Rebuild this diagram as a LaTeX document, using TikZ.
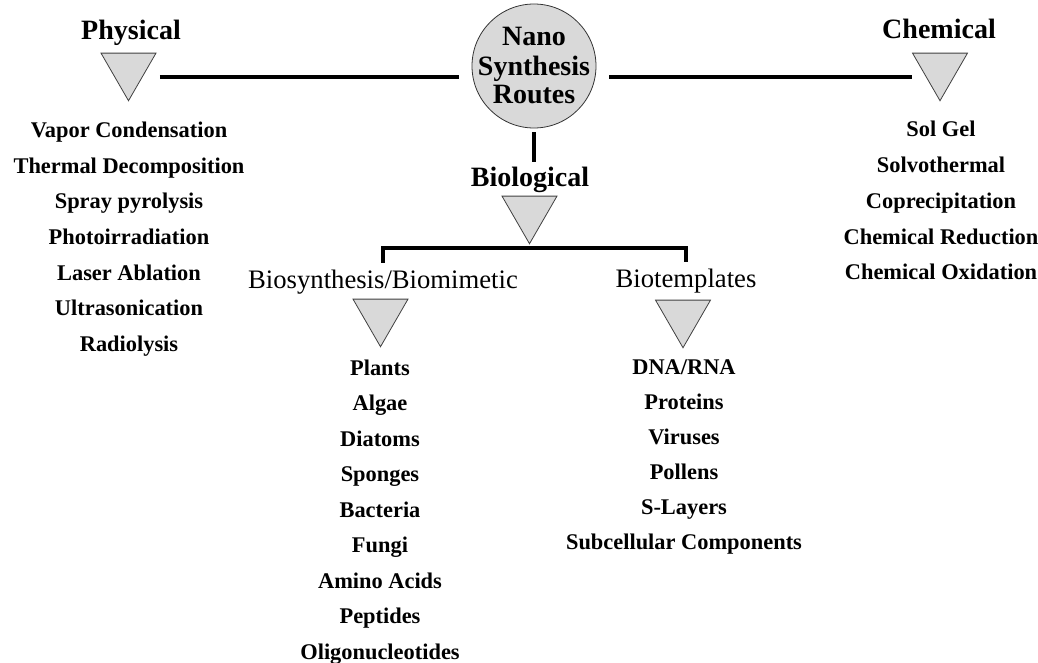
\documentclass[tikz,border=0pt]{standalone}
\usepackage{fontspec}
\setmainfont{Liberation Serif}
\usetikzlibrary{shapes.geometric}
\definecolor{shade}{RGB}{217,217,217}
\begin{document}
\begin{tikzpicture}[x=0.75pt,y=-0.75pt,
  item/.style={anchor=base, inner sep=0pt, font=\fontsize{16.8}{20}\selectfont\bfseries},
  head/.style={anchor=base, inner sep=0pt, font=\fontsize{21}{25}\selectfont\bfseries},
  subhead/.style={anchor=base, inner sep=0pt, font=\fontsize{20}{24}\selectfont},
  tri/.style={regular polygon, regular polygon sides=3, shape border rotate=180,
    minimum size=47.6pt, inner sep=0pt, fill=shade, draw=black!75, line width=0.6pt},
  hub/.style={circle, minimum size=93pt, inner sep=0pt, fill=shade, draw=black!80, line width=0.6pt},
  conn/.style={line width=3pt}]
\useasboundingbox (0,0) rectangle (1038,663);

% central hub
\node[hub] (hub) at (534,66) {};
\node[head] (hubA) at (534,46) {Nano};
\node[head] (hubB) at (534,76) {Synthesis};
\node[head] (hubC) at (534,104) {Routes};

% headings and triangles
\node[head] (phys) at (131,40) {Physical};
\node[tri] (physT) at (128.5,69) {};
\node[head] (chem) at (939,39) {Chemical};
\node[tri] (chemT) at (940,69) {};
\node[head] (bio) at (530,186) {Biological};
\node[tri] (bioT) at (529.5,212) {};
\node[subhead] (bsyn) at (383,288) {Biosynthesis/Biomimetic};
\node[tri] (bsynT) at (380.5,315) {};
\node[subhead] (btem) at (686,287) {Biotemplates};
\node[tri] (btemT) at (683,316) {};

% connectors
\coordinate (rowY) at (0,77);
\draw[conn] ([xshift=23.6pt]physT.center |- rowY) -- ([xshift=-9.75pt]hub.west |- rowY);
\draw[conn] ([xshift=9.75pt]hub.east |- rowY) -- ([xshift=-21pt]chemT.center |- rowY);
\draw[conn] ([yshift=-3pt]hub.south) -- ([yshift=3.5pt]bio.north -| hub.south);
\draw[conn] ([yshift=5pt]bsyn.north) -- ++(0,-15) -| ([yshift=5pt]btem.north);

% item lists
\foreach \t [count=\i] in {Vapor Condensation, Thermal Decomposition, Spray pyrolysis,
  Photoirradiation, Laser Ablation, Ultrasonication, Radiolysis}
  \node[item] (p\i) at (129,{138+35.5*(\i-1)}) {\t};
\foreach \t [count=\i] in {Sol Gel, Solvothermal, Coprecipitation, Chemical Reduction,
  Chemical Oxidation}
  \node[item] (c\i) at (941,{137+35.7*(\i-1)}) {\t};
\foreach \t [count=\i] in {Plants, Algae, Diatoms, Sponges, Bacteria, Fungi,
  Amino Acids, Peptides, Oligonucleotides}
  \node[item] (b\i) at (380,{375+35.5*(\i-1)}) {\t};
\foreach \t [count=\i] in {DNA/RNA, Proteins, Viruses, Pollens, S-Layers,
  Subcellular Components}
  \node[item] (t\i) at (684,{374+35*(\i-1)}) {\t};
\end{tikzpicture}
\end{document}
